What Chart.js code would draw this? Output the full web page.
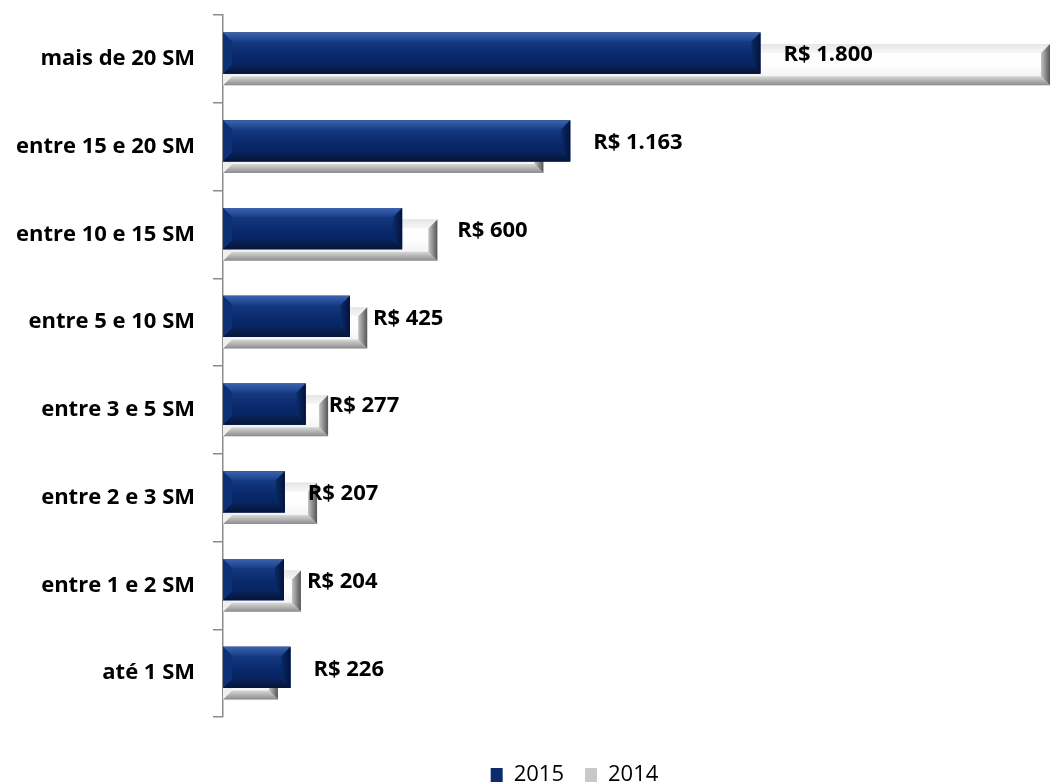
<!DOCTYPE html>
<html lang="pt-BR">
<head>
<meta charset="utf-8">
<title>Renda por faixa de salário mínimo</title>
<script src="https://cdn.jsdelivr.net/npm/chart.js@4.4.1/dist/chart.umd.min.js"></script>
<style>
    html, body { margin: 0; padding: 0; background: #fff; }
    #wrap { width: 1053px; height: 783px; position: relative; }
</style>
</head>
<body>
<div id="wrap"><canvas id="rendaChart"></canvas></div>
<script>
// Faixas de renda (de cima para baixo)
const faixas = ['mais de 20 SM', 'entre 15 e 20 SM', 'entre 10 e 15 SM', 'entre 5 e 10 SM',
    'entre 3 e 5 SM', 'entre 2 e 3 SM', 'entre 1 e 2 SM', 'até 1 SM'];
const valores2015 = [1800, 1163, 600, 425, 277, 207, 204, 226];
const valores2014 = [2770, 1073, 718, 483, 352, 315, 261, 184];
const eixoMax = 2780;

const AXIS_X = 223;
const LEGEND_SHIFT = { x: 48, y: 26 };

Chart.defaults.font.family = "'Open Sans', sans-serif";

// Formata número com ponto como separador de milhar
function formatBRL(v) {
    return 'R$ ' + String(v).replace(/\B(?=(\d{3})+(?!\d))/g, '.');
}

const bevelStyles = [
    { // 2015 - azul
        top: ['#3d62ad', '#17408a'],
        face: ['#15397f', '#0b2b6f', '#072461'],
        bottom: ['#08225a', '#051538'],
        left: '#0e3075',
        right: ['#0a2a68', '#03133a']
    },
    { // 2014 - branco
        top: ['#e6e6e6', '#f7f7f7'],
        face: ['#ffffff', '#fdfdfd', '#f4f4f4'],
        bottom: ['#d8d8d8', '#8c8c8c'],
        left: '#efefef',
        right: ['#c4c4c4', '#555555']
    }
];

function poly(ctx, pts, fill) {
    ctx.beginPath();
    ctx.moveTo(pts[0][0], pts[0][1]);
    for (let i = 1; i < pts.length; i++) ctx.lineTo(pts[i][0], pts[i][1]);
    ctx.closePath();
    ctx.fillStyle = fill;
    ctx.fill();
}

function drawBevelBar(ctx, l, t, r, b, st) {
    const s = Math.min(9, (r - l) / 2, (b - t) / 2);
    let g = ctx.createLinearGradient(0, t + s, 0, b - s);
    g.addColorStop(0, st.face[0]);
    g.addColorStop(0.5, st.face[1]);
    g.addColorStop(1, st.face[2]);
    ctx.fillStyle = g;
    ctx.fillRect(l, t, r - l, b - t);

    g = ctx.createLinearGradient(0, t, 0, t + s);
    g.addColorStop(0, st.top[0]);
    g.addColorStop(1, st.top[1]);
    poly(ctx, [[l, t], [r, t], [r - s, t + s], [l + s, t + s]], g);

    g = ctx.createLinearGradient(0, b - s, 0, b);
    g.addColorStop(0, st.bottom[0]);
    g.addColorStop(1, st.bottom[1]);
    poly(ctx, [[l, b], [r, b], [r - s, b - s], [l + s, b - s]], g);

    poly(ctx, [[l, t], [l + s, t + s], [l + s, b - s], [l, b]], st.left);

    g = ctx.createLinearGradient(r - s, 0, r, 0);
    g.addColorStop(0, st.right[0]);
    g.addColorStop(1, st.right[1]);
    poly(ctx, [[r, t], [r - s, t + s], [r - s, b - s], [r, b]], g);
}

// Desenha o relevo das barras, por dataset, na ordem de desenho
const bevelPlugin = {
    id: 'bevel',
    afterDatasetDraw(chart, args) {
        const { ctx, chartArea } = chart;
        const st = bevelStyles[args.index];
        ctx.save();
        ctx.beginPath();
        ctx.rect(chartArea.left, chartArea.top, chartArea.right - chartArea.left, chartArea.bottom - chartArea.top);
        ctx.clip();
        args.meta.data.forEach(bar => {
            const p = bar.getProps(['x', 'y', 'base', 'height'], true);
            const l = Math.min(p.base, p.x), r = Math.max(p.base, p.x);
            drawBevelBar(ctx, l, p.y - p.height / 2, r, p.y + p.height / 2, st);
        });
        ctx.restore();
    }
};

// Rótulos de valor de 2015
const labelPlugin = {
    id: 'valueLabels',
    afterDatasetsDraw(chart) {
        const { ctx } = chart;
        const meta = chart.getDatasetMeta(0);
        ctx.save();
        ctx.font = "bold 22px 'Open Sans', sans-serif";
        ctx.fillStyle = '#000';
        ctx.textAlign = 'left';
        ctx.textBaseline = 'middle';
        meta.data.forEach((bar, i) => {
            const nudge = i === 2 ? 32 : 0;
            ctx.fillText(formatBRL(valores2015[i]), bar.x + 23 + nudge, bar.y + 2);
        });
        ctx.restore();
    }
};

// Legenda um pouco à direita e mais perto da borda inferior
const legendShift = {
    id: 'legendShift',
    afterLayout(chart) {
        const lg = chart.legend;
        if (!lg) return;
        lg.left += LEGEND_SHIFT.x;
        lg.right += LEGEND_SHIFT.x;
        lg.top += LEGEND_SHIFT.y;
        lg.bottom += LEGEND_SHIFT.y;
    }
};

new Chart(document.getElementById('rendaChart'), {
    type: 'bar',
    data: {
        labels: faixas,
        datasets: [
            {
                label: '2015',
                data: valores2015,
                backgroundColor: '#0b2b6f',
                borderWidth: 0
            },
            {
                label: '2014',
                data: valores2014,
                backgroundColor: '#c8c8c8',
                borderWidth: 0
            }
        ]
    },
    options: {
        indexAxis: 'y',
        responsive: true,
        maintainAspectRatio: false,
        animation: false,
        categoryPercentage: 0.263,
        barPercentage: 3.57,
        layout: {
            padding: { top: 15, left: 0, right: 0, bottom: 13 }
        },
        plugins: {
            legend: {
                position: 'bottom',
                labels: {
                    color: '#000',
                    boxWidth: 12,
                    boxHeight: 14,
                    padding: 21,
                    font: { size: 22 }
                }
            },
            tooltip: { enabled: false }
        },
        scales: {
            x: {
                display: false,
                min: 0,
                max: eixoMax
            },
            y: {
                afterFit(scale) {
                    scale.width = AXIS_X;
                    scale.paddingTop = 0;
                    scale.paddingBottom = 0;
                },
                grid: {
                    drawOnChartArea: false,
                    drawTicks: true,
                    tickLength: 10,
                    color: '#8c8c8c',
                    lineWidth: 1.5
                },
                border: { display: true, color: '#8c8c8c', width: 1.5 },
                ticks: {
                    color: '#000',
                    padding: 18,
                    font: { size: 22, weight: 'bold' }
                }
            }
        }
    },
    plugins: [bevelPlugin, labelPlugin, legendShift]
});
</script>
</body>
</html>
